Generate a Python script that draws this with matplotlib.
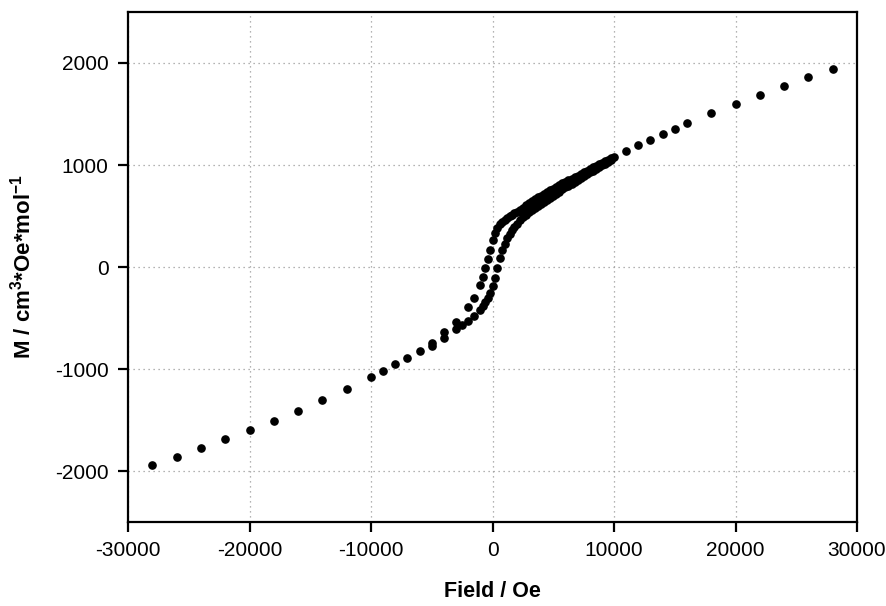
import numpy as np
import matplotlib
matplotlib.use("Agg")
import matplotlib.pyplot as plt

# Dados (campo em Oe, magnetização em cm^3*Oe*mol^-1)

# ramo externo positivo
H_pos = [10000, 11000, 12000, 13000, 14000, 15000, 16000, 18000, 20000,
         22000, 24000, 26000, 28000]
M_pos = [1080, 1137, 1196, 1245, 1304, 1353, 1412, 1510, 1598,
         1686, 1775, 1860, 1941]

# ramo externo negativo
H_neg = [-28000, -26000, -24000, -22000, -20000, -18000, -16000, -14000,
         -12000, -10000, -9000, -8000, -7000, -6000]
M_neg = [-1941, -1860, -1775, -1690, -1601, -1507, -1409, -1304,
         -1196, -1082, -1018, -954, -891, -820]

# ramo descendente (parte de cima do laço)
H_desc = [9750, 9500, 9250, 9000, 8750, 8500, 8250, 8000, 7750, 7500,
          7250, 7000, 6750, 6500, 6250, 6000, 5750, 5500, 5250, 5000,
          4750, 4500, 4250, 4000, 3750, 3500, 3250, 3000, 2750, 2500,
          2250, 2000, 1800, 1600, 1400, 1200, 1000, 800, 600, 400,
          200, 0, -200, -400, -600, -800, -1000, -1500, -2000, -3000,
          -4000, -5000]
M_desc = [1065, 1050, 1035, 1020, 1005, 991, 976, 962, 945, 929,
          913, 897, 881, 866, 851, 836, 819, 802, 785, 768,
          751, 734, 717, 700, 682, 663, 644, 625, 604, 583,
          562, 540, 526, 513, 500, 484, 465, 443, 418, 385,
          335, 262, 165, 75, -10, -95, -176, -300, -389, -536,
          -640, -742]

# ramo ascendente (parte de baixo do laço)
H_asc = [-5000, -4000, -3000, -2500, -2000, -1500, -1000, -800, -600, -400,
         -200, 0, 200, 400, 600, 800, 1000, 1200, 1400, 1600,
         1800, 2000, 2250, 2500, 2750, 3000, 3250, 3500, 3750, 4000,
         4250, 4500, 4750, 5000, 5250, 5500, 5750, 6000, 6250, 6500,
         6750, 7000, 7250, 7500, 7750, 8000, 8250, 8500, 8750, 9000,
         9250, 9500, 9750]
M_asc = [-774, -693, -611, -569, -526, -480, -422, -385, -345, -300,
         -250, -190, -105, -10, 85, 165, 230, 283, 327, 364,
         396, 425, 458, 487, 513, 537, 559, 580, 600, 620,
         640, 660, 680, 700, 720, 740, 760, 780, 799, 818,
         837, 856, 875, 893, 911, 929, 946, 963, 980, 997,
         1013, 1029, 1045]

plt.rcParams['font.family'] = ['Liberation Sans', 'DejaVu Sans']
plt.rcParams['mathtext.fontset'] = 'custom'
plt.rcParams['mathtext.rm'] = 'Liberation Sans:bold'
plt.rcParams['mathtext.default'] = 'rm'
plt.rcParams['axes.unicode_minus'] = False

fig = plt.figure(figsize=(8.86, 6.06), dpi=100)
ax = fig.add_axes([0.1445, 0.1386, 0.8228, 0.8416])

for H, M in [(H_neg, M_neg), (H_asc, M_asc), (H_desc, M_desc), (H_pos, M_pos)]:
    ax.plot(H, M, "o", c="k", ms=5.2, mec="k", ls="none")

ax.set_xlim(-30000, 30000)
ax.set_ylim(-2500, 2500)
ax.set_xticks(np.arange(-30000, 30001, 10000))
ax.set_yticks(np.arange(-2000, 2001, 1000))

ax.grid(True, color="#9a9a9a", ls=(0, (1, 3)), lw=0.9)
ax.set_axisbelow(True)

for s in ax.spines.values():
    s.set_linewidth(1.6)

ax.tick_params(direction="out", length=7, width=1.6, labelsize=15, pad=7)

ax.set_xlabel("Field / Oe", fontsize=15.5, fontweight="bold", labelpad=15)
ax.set_ylabel("M / cm$^{3}$*Oe*mol$^{-1}$", fontsize=16, fontweight="bold",
              labelpad=14)

plt.savefig("out.png", dpi=100)
plt.close()
